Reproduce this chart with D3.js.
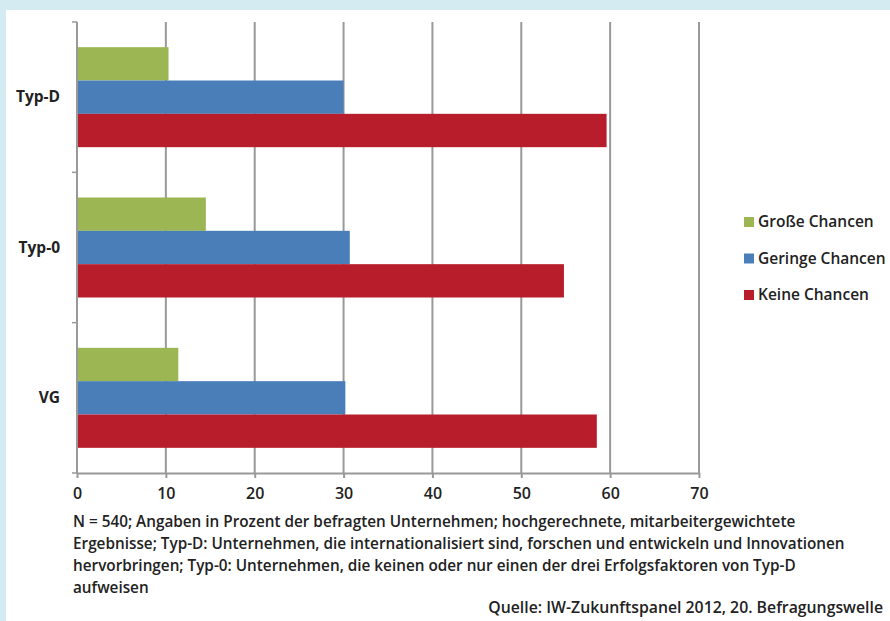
<!DOCTYPE html>
<html>
<head>
<meta charset="utf-8">
<script src="https://cdn.jsdelivr.net/npm/d3@7"></script>
<style>
  body { margin: 0; background: #d5ebf2; }
  svg { display: block; font-family: "Open Sans", Lato, sans-serif; }
</style>
</head>
<body>
<svg id="chart" width="890" height="621"></svg>
<script>
"use strict";

// categories top to bottom
const CATEGORIES = ["Typ-D", "Typ-0", "VG"];
const SERIES = ["Große Chancen", "Geringe Chancen", "Keine Chancen"];
const GROSSE = [10.3, 14.5, 11.4];
const GERINGE = [30.0, 30.7, 30.2];
const KEINE = [59.6, 54.8, 58.5];
const X_TICKS = [0, 10, 20, 30, 40, 50, 60, 70];
const COLORS = ["#9bb653", "#4a7eb9", "#b81d2c"];

const NOTE_LINES = [
  "N = 540; Angaben in Prozent der befragten Unternehmen; hochgerechnete, mitarbeitergewichtete",
  "Ergebnisse; Typ-D: Unternehmen, die internationalisiert sind, forschen und entwickeln und Innovationen",
  "hervorbringen; Typ-0: Unternehmen, die keinen oder nur einen der drei Erfolgsfaktoren von Typ-D",
  "aufweisen"
];
const SOURCE = "Quelle: IW-Zukunftspanel 2012, 20. Befragungswelle";

const svg = d3.select("#chart");

// white panel inside the light blue frame
svg.append("rect")
  .attr("x", 6).attr("y", 10)
  .attr("width", 884).attr("height", 611)
  .attr("fill", "#fff");

const margin = { left: 77, top: 22, right: 191, bottom: 148 };
const W = 890 - margin.left - margin.right;
const H = 621 - margin.top - margin.bottom;

const g = svg.append("g").attr("transform", `translate(${margin.left},${margin.top})`);

const x = d3.scaleLinear().domain([0, 70]).range([0, W]);
const yOuter = d3.scaleBand().domain(CATEGORIES).range([0, H]);
const sub = d3.scaleBand().domain(SERIES).range([0, 100]);

// vertical gridlines
g.selectAll(".grid")
  .data(X_TICKS.slice(1))
  .enter()
  .append("line")
  .attr("x1", (d) => x(d)).attr("x2", (d) => x(d))
  .attr("y1", 0).attr("y2", H)
  .attr("stroke", "#999").attr("stroke-width", 2);

const bars = [];
[GROSSE, GERINGE, KEINE].forEach((vals, i) => {
  CATEGORIES.forEach((c, j) => bars.push({ cat: c, series: SERIES[i], idx: i, v: vals[j] }));
});

const barsTop = (c) => yOuter(c) + (yOuter.bandwidth() - 100) / 2;

g.selectAll(".bar")
  .data(bars)
  .enter()
  .append("rect")
  .attr("class", "bar")
  .attr("x", 0)
  .attr("y", (d) => barsTop(d.cat) + sub(d.series))
  .attr("width", (d) => x(d.v))
  .attr("height", sub.bandwidth())
  .attr("fill", (d) => COLORS[d.idx]);

// x axis
const xAxis = g.append("g")
  .attr("transform", `translate(0,${H})`)
  .call(d3.axisBottom(x).tickValues(X_TICKS).tickSize(5).tickSizeOuter(0).tickPadding(10));
xAxis.select(".domain").attr("stroke", "#999").attr("stroke-width", 2);
xAxis.selectAll(".tick line").attr("stroke", "#999").attr("stroke-width", 2);
xAxis.selectAll("text")
  .attr("fill", "#222")
  .style("font-size", "16px")
  .style("font-weight", "600")
  .style("font-family", "'Open Sans', sans-serif");

// y axis line and ticks at band boundaries
g.append("line")
  .attr("x1", 0).attr("x2", 0).attr("y1", 0).attr("y2", H)
  .attr("stroke", "#999").attr("stroke-width", 2);
g.selectAll(".ytick")
  .data(CATEGORIES.concat(["end"]))
  .enter()
  .append("line")
  .attr("x1", -5).attr("x2", 0)
  .attr("y1", (d, i) => i * yOuter.step())
  .attr("y2", (d, i) => i * yOuter.step())
  .attr("stroke", "#999").attr("stroke-width", 1.5);

g.selectAll(".ylab")
  .data(CATEGORIES)
  .enter()
  .append("text")
  .attr("x", -17)
  .attr("y", (d) => yOuter(d) + yOuter.bandwidth() / 2 + 1)
  .attr("text-anchor", "end")
  .attr("dominant-baseline", "middle")
  .attr("fill", "#222")
  .style("font-size", "15.5px")
  .style("font-weight", "700")
  .text((d) => d);

// legend
const legend = svg.append("g").attr("transform", "translate(744,222)");
SERIES.forEach((s, i) => {
  const row = legend.append("g").attr("transform", `translate(0,${i * 36.5})`);
  row.append("rect").attr("x", 0).attr("y", -5).attr("width", 10).attr("height", 10).attr("fill", COLORS[i]);
  row.append("text")
    .attr("x", 14).attr("y", 1)
    .attr("dominant-baseline", "middle")
    .attr("fill", "#222")
    .style("font-size", "15.5px")
    .style("font-weight", "600")
    .text(s);
});

// footnote
svg.selectAll(".note")
  .data(NOTE_LINES)
  .enter()
  .append("text")
  .attr("x", 73)
  .attr("y", (d, i) => 527 + i * 22)
  .attr("fill", "#222")
  .style("font-size", "15.3px")
  .style("font-weight", "600")
  .text((d) => d);

svg.append("text")
  .attr("x", 883).attr("y", 613)
  .attr("text-anchor", "end")
  .attr("fill", "#222")
  .style("font-size", "15.8px")
  .style("font-weight", "600")
  .text(SOURCE);
</script>
</body>
</html>
